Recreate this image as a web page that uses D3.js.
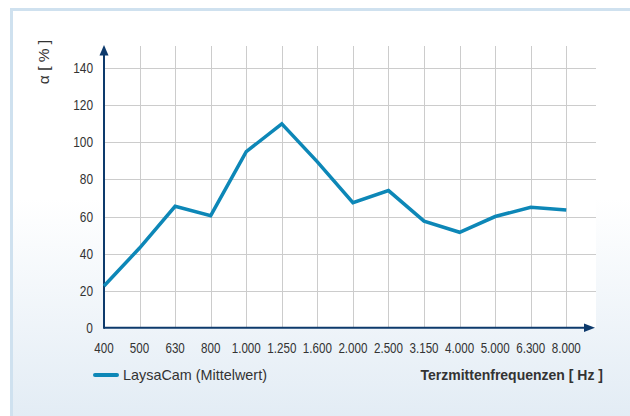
<!DOCTYPE html>
<html><head><meta charset="utf-8">
<script src="https://cdn.jsdelivr.net/npm/d3@7"></script>
<style>html,body{margin:0;padding:0;background:#fff;}svg{display:block;}</style>
</head><body>
<svg id="c" width="630" height="416"></svg>
<script>
const categories = ["400","500","630","800","1.000","1.250","1.600","2.000","2.500","3.150","4.000","5.000","6.300","8.000"];
const values = [22.5, 43, 65.5, 60.5, 95, 110, 89.5, 67.5, 74, 57.5, 51.5, 60, 65, 63.5];
const yTicks = [0, 20, 40, 60, 80, 100, 120, 140];
const seriesName = "LaysaCam (Mittelwert)";
const xTitle = "Terzmittenfrequenzen [ Hz ]";
const yTitle = "α [ % ]";

const svg = d3.select("#c");
const defs = svg.append("defs");
const grad = defs.append("linearGradient").attr("id","bg").attr("x1",0).attr("y1",0).attr("x2",0).attr("y2",1);
grad.append("stop").attr("offset","0%").attr("stop-color","#ffffff");
grad.append("stop").attr("offset","45%").attr("stop-color","#ffffff");
grad.append("stop").attr("offset","100%").attr("stop-color","#e1ebf4");

svg.append("rect").attr("x",0).attr("y",0).attr("width",630).attr("height",416).attr("fill","#fff");
svg.append("rect").attr("x",11.5).attr("y",9.5).attr("width",640).attr("height",420)
  .attr("fill","url(#bg)").attr("stroke","#cfe1ef").attr("stroke-width",3);

const x = d3.scalePoint().domain(categories).range([104, 566.3]);
const y = d3.scaleLinear().domain([0, 140]).range([327.7, 68.3]);
const xLeft = 104, xRight = 596, yTop = 46, yBot = 327.7;

svg.append("rect").attr("x",xLeft).attr("y",yTop).attr("width",xRight-xLeft).attr("height",yBot-yTop).attr("fill","#fff");

// grid
const g = svg.append("g");
g.selectAll("line.h").data(yTicks.filter(d=>d>0)).join("line")
  .attr("x1",xLeft).attr("x2",xRight).attr("y1",d=>Math.round(y(d))+0.5).attr("y2",d=>Math.round(y(d))+0.5)
  .attr("stroke","#cccccc").attr("stroke-width",1);
g.selectAll("line.v").data(categories.slice(1)).join("line")
  .attr("x1",d=>Math.round(x(d))+0.5).attr("x2",d=>Math.round(x(d))+0.5).attr("y1",yTop).attr("y2",yBot)
  .attr("stroke","#cccccc").attr("stroke-width",1);

// axes
const axisColor = "#0d3a6c";
svg.append("line").attr("x1",xLeft).attr("x2",587).attr("y1",yBot).attr("y2",yBot).attr("stroke",axisColor).attr("stroke-width",2);
svg.append("line").attr("x1",xLeft).attr("x2",xLeft).attr("y1",yBot+1).attr("y2",53).attr("stroke",axisColor).attr("stroke-width",2);
svg.append("path").attr("d",`M${xLeft},45 L${xLeft-4.5},55.5 L${xLeft+4.5},55.5 Z`).attr("fill",axisColor);
svg.append("path").attr("d",`M595,${yBot} L584,${yBot-4.2} L584,${yBot+4.2} Z`).attr("fill",axisColor);

// tick labels (condensed look via horizontal scaling)
const font = "'Liberation Sans','Arial',sans-serif";
svg.append("g").selectAll("text").data(yTicks).join("text")
  .attr("transform",d=>`translate(93,${y(d)+5}) scale(0.85,1)`).attr("text-anchor","end")
  .attr("font-family",font).attr("font-size",14).attr("fill","#333").text(d=>d);
svg.append("g").selectAll("text").data(categories).join("text")
  .attr("transform",d=>`translate(${x(d)},353) scale(0.83,1)`).attr("text-anchor","middle")
  .attr("font-family",font).attr("font-size",14).attr("fill","#333").text(d=>d);

// line
const line = d3.line().x((d,i)=>x(categories[i])).y(d=>y(d));
svg.append("path").datum(values).attr("d",line).attr("fill","none")
  .attr("stroke","#0d87b7").attr("stroke-width",3.5).attr("stroke-linejoin","miter");

// titles
svg.append("text").attr("transform","translate(49,62) rotate(-90)").attr("text-anchor","middle")
  .attr("font-family",font).attr("font-size",15.5).attr("fill","#333").text(yTitle);

svg.append("line").attr("x1",95).attr("x2",117).attr("y1",375).attr("y2",375).attr("stroke","#0d87b7").attr("stroke-width",4).attr("stroke-linecap","round");
svg.append("text").attr("x",123).attr("y",380).attr("font-family",font)
  .attr("font-size",14.4).attr("fill","#333").text(seriesName);
svg.append("text").attr("x",603).attr("y",380).attr("text-anchor","end").attr("font-family",font)
  .attr("font-size",14).attr("font-weight","bold").attr("fill","#333").text(xTitle);
</script>
</body></html>
